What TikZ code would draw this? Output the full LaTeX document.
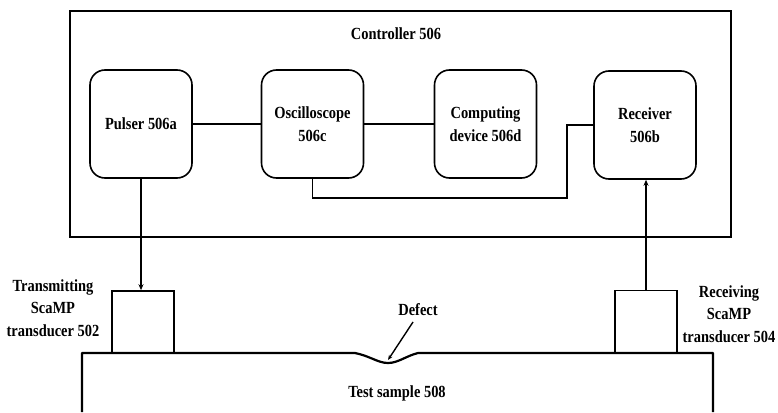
\documentclass[tikz,border=0pt]{standalone}
\usepackage{fontspec}
\setmainfont{Liberation Serif}[FakeStretch=0.85]
\usetikzlibrary{arrows.meta}
\begin{document}
\begin{tikzpicture}[x=1pt,y=-1pt,
  lbl/.style={font=\fontsize{17}{22.5}\selectfont\bfseries, align=center, inner sep=0pt},
  unit/.style={draw, line width=1.6pt, rounded corners=15pt, minimum width=102pt, minimum height=108pt, inner sep=2pt, lbl},
  probe/.style={draw, line width=1.6pt, minimum width=62pt, minimum height=62pt, inner sep=0pt},
  wire/.style={line width=1.6pt},
  arr/.style={line width=1.4pt, -{Stealth[length=6pt,width=5pt]}}]
\useasboundingbox (0,0) rectangle (778,412);
% controller frame
\node[draw, line width=1.6pt, minimum width=661pt, minimum height=226pt, inner sep=0pt] (ctrl) at (400.5,124) {};
\node[lbl] (ctrllbl) at (396,34) {Controller 506};
% units
\node[unit] (pulser) at (141,124) {Pulser 506a};
\node[unit] (osc) at (312.5,124) {Oscilloscope\\506c};
\node[unit] (comp) at (485.5,124) {Computing\\device 506d};
\node[unit] (rec) at (645,125) {Receiver\\506b};
% probes
\node[probe] (tx) at (143,322) {};
\node[probe] (rx) at (646,321.5) {};
% wires
\draw[wire] (pulser.east) -- (osc.west |- pulser.east);
\draw[wire] (osc.east) -- (comp.west |- osc.east);
\coordinate (k1) at (567,198);
\draw[wire] (osc.south) |- (k1) |- (rec.west);
\draw[arr] (pulser.south) -- (pulser.south |- tx.north);
\draw[arr] (rx.north) -- (rx.north |- rec.south);
% test sample
\coordinate (s1) at (82,412);
\coordinate (s2) at (713,412);
\draw[line width=2.2pt, line join=round] (s1) -- (82,353) -- (355,353)
  .. controls (370,356) and (378,363) .. (388,363)
  .. controls (398,363) and (406,356) .. (418,353) -- (713,353) -- (s2);
% labels
\node[lbl] (txlbl) at (53,308) {Transmitting\\ScaMP\\transducer 502};
\node[lbl] (rxlbl) at (729,314) {Receiving\\ScaMP\\transducer 504};
\node[lbl] (deflbl) at (418,310) {Defect};
\node[lbl] (samplbl) at (397,393) {Test sample 508};
\coordinate (dtip) at (388,360);
\draw[arr, -{Stealth[length=5pt,width=4pt]}] (413,322) -- (dtip);
\end{tikzpicture}
\end{document}
